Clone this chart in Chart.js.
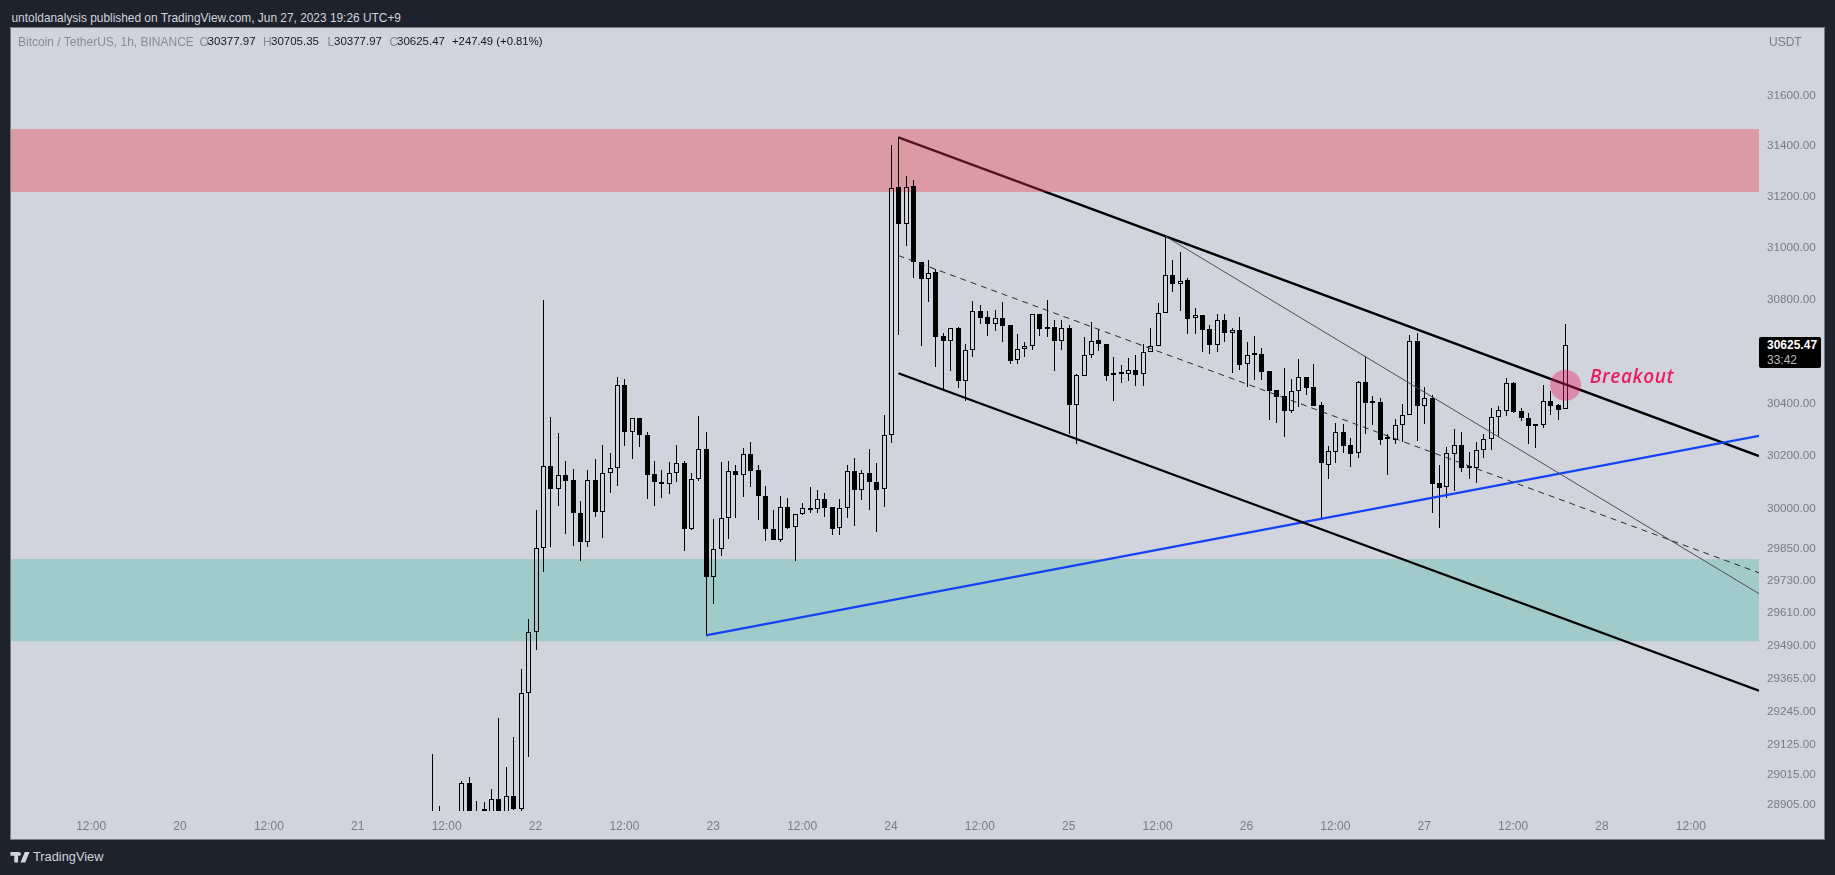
<!DOCTYPE html>
<html>
<head>
<meta charset="utf-8">
<title>BTCUSDT 1h</title>
<script src="https://cdn.jsdelivr.net/npm/chart.js@4/dist/chart.umd.min.js"></script>
<style>
    html, body { margin: 0; height: 100%; background: #1e222d; overflow: hidden; }
    body { width: 1835px; height: 875px; position: relative; font-family: "Liberation Sans", sans-serif; }
    #pane { position: absolute; left: 10px; top: 27px; width: 1813px; height: 811px; background: #d1d4dc; border: 1px solid #787b86; }
    #chart { position: absolute; left: 11px; top: 28px; }
    .txt { position: absolute; white-space: nowrap; }
    #published { left: 11.5px; top: 11px; font-size: 11.9px; color: #d1d4dc; }
    .legend { top: 35px; font-size: 11.5px; color: #131722; }
    .legend.dim { color: #878b98; font-size: 12px; }
    #unit { left: 1769px; top: 35px; font-size: 12px; color: #787b86; }
    #lastPrice { position: absolute; left: 1759px; top: 337px; width: 54px; height: 31px; padding-left: 8px; background: #000; border-radius: 2px; font-size: 12px; line-height: 15px; color: #fff; }
    #lastPrice b { display: block; padding-top: 1px; font-weight: 700; }
    #lastPrice span { color: #bdbdbd; }
    #brand { left: 33px; top: 849px; font-size: 12.8px; color: #d1d4dc; }
    #logo { position: absolute; left: 10px; top: 852px; }
</style>
</head>
<body>
<div id="pane"></div>
<canvas id="chart" width="1813" height="810"></canvas>

<div class="txt" id="published">untoldanalysis published on TradingView.com, Jun 27, 2023 19:26 UTC+9</div>
<div class="txt legend dim" style="left:18px">Bitcoin / TetherUS, 1h, BINANCE</div>
<div class="txt legend dim" style="left:199.5px">O</div><div class="txt legend" style="left:207.6px">30377.97</div>
<div class="txt legend dim" style="left:263px">H</div><div class="txt legend" style="left:271px">30705.35</div>
<div class="txt legend dim" style="left:327.4px">L</div><div class="txt legend" style="left:334px">30377.97</div>
<div class="txt legend dim" style="left:389.5px">C</div><div class="txt legend" style="left:397px">30625.47</div>
<div class="txt legend" style="left:452px;font-size:11.3px">+247.49 (+0.81%)</div>
<div class="txt" id="unit">USDT</div>
<div id="lastPrice"><b>30625.47</b><span>33:42</span></div>
<svg id="logo" width="20" height="10.5" viewBox="0 0 20 11"><path fill="#d1d4dc" d="M0 0h8v11H4V4H0zM15 0h5l-4.5 11h-5zM9 0a2 2 0 1 1 0 4a2 2 0 0 1 0-4z"/></svg>
<div class="txt" id="brand">TradingView</div>

<script>
// Candles, one per hour. Hour 0 is Jun 19 00:00, first candle is hour 58
const firstHour = 58;
const opens = [
    28800,28790,28810,28830,28840,28985,28850,28860,28865,28925,
    28860,28935,28891,29312,29538,29854,30161,30074,30128,30108,
    29984,29877,30108,29990,30134,30153,30470,30290,30345,30281,
    30131,30100,30095,30135,30175,29923,30112,30228,29745,29850,
    29965,30145,30130,30208,30148,30050,29926,29882,30007,29931,
    29980,30004,29998,30038,30008,29927,30002,30142,30070,30137,
    30103,30075,30280,31238,31095,31243,30947,30880,30908,30660,
    30642,30692,30488,30606,30757,30733,30707,30730,30702,30566,
    30609,30621,30743,30686,30696,30640,30692,30395,30507,30586,
    30644,30630,30513,30517,30515,30527,30512,30598,30620,30748,
    30895,30862,30875,30727,30742,30687,30623,30722,30672,30682,
    30550,30590,30592,30526,30452,30428,30372,30450,30501,30464,
    30394,30167,30216,30292,30242,30210,30484,30406,30405,30267,
    30263,30318,30355,30642,30391,30421,30098,30081,30209,30244,
    30157,30153,30222,30264,30350,30372,30478,30370,30346,30318,
    30317,30409,30393,30377.97
];
const highs = [
    29091,28900,28860,28870,28992,29007,28917,28913,28962,29222,
    29043,29153,29403,29589,29997,30797,30347,30288,30180,30150,
    30030,30146,30190,30241,30211,30503,30495,30345,30345,30292,
    30183,30146,30178,30241,30180,30137,30352,30290,29963,30178,
    30183,30165,30230,30255,30165,30085,29997,30050,30042,29981,
    30023,30081,30072,30061,30008,30038,30166,30192,30147,30227,
    30175,30355,31403,31435,31283,31268,30947,30955,30920,30670,
    30690,30696,30630,30795,30780,30755,30760,30792,30702,30668,
    30638,30746,30743,30797,30722,30722,30700,30512,30655,30714,
    30687,30630,30578,30547,30574,30585,30627,30691,30785,31047,
    30955,30985,30885,30768,30742,30700,30746,30746,30692,30733,
    30638,30658,30612,30526,30452,30535,30494,30572,30501,30553,
    30405,30238,30327,30323,30268,30488,30582,30428,30420,30285,
    30342,30397,30663,30670,30463,30433,30167,30233,30304,30290,
    30215,30253,30285,30382,30390,30497,30482,30385,30365,30318,
    30470,30447,30400,30705.35
];
const lows = [
    28780,28770,28790,28800,28820,28830,28830,28840,28850,28850,
    28850,28885,28870,29078,29471,29763,29855,30010,29905,29860,
    29803,29857,29968,29890,30062,30085,30240,30190,30235,30037,
    30010,30041,30055,30100,29840,29920,30106,29525,29645,29822,
    29887,29965,30044,30082,29960,29878,29882,29875,29926,29803,
    29976,29986,29986,29971,29903,29903,29965,29937,30035,29995,
    29912,30008,30250,30665,31010,30882,30620,30790,30540,30455,
    30525,30460,30410,30580,30705,30658,30678,30635,30553,30553,
    30577,30607,30658,30654,30525,30607,30283,30247,30505,30575,
    30600,30488,30410,30480,30488,30468,30468,30598,30620,30748,
    30830,30755,30668,30668,30597,30590,30597,30636,30517,30530,
    30465,30490,30490,30338,30327,30273,30363,30386,30433,30390,
    29962,30115,30175,30212,30160,30192,30283,30320,30242,30130,
    30245,30255,30355,30258,30323,29983,29930,30040,30068,30140,
    30115,30098,30192,30225,30272,30352,30365,30333,30247,30232,
    30305,30355,30337,30377.97
];
const closes = [
    28790,28810,28830,28840,28985,28850,28860,28865,28925,28860,
    28935,28891,29312,29538,29854,30161,30074,30128,30107,29984,
    29877,30108,29990,30134,30153,30470,30290,30345,30280,30130,
    30100,30095,30135,30175,29923,30112,30228,29745,29850,29965,
    30142,30130,30207,30145,30048,29923,29882,30007,29929,29981,
    30004,29997,30038,30005,29926,30004,30142,30070,30135,30100,
    30073,30280,31237,31095,31240,30945,30880,30905,30655,30642,
    30690,30488,30606,30757,30730,30707,30728,30698,30565,30610,
    30622,30743,30685,30696,30640,30691,30395,30510,30588,30642,
    30628,30507,30510,30513,30527,30510,30598,30621,30748,30895,
    30862,30872,30725,30740,30683,30623,30722,30672,30682,30549,
    30587,30587,30522,30448,30425,30370,30450,30501,30460,30390,
    30172,30218,30290,30238,30207,30484,30401,30402,30262,30264,
    30318,30357,30642,30390,30420,30095,30080,30210,30242,30155,
    30153,30222,30264,30350,30374,30478,30368,30345,30313,30315,
    30408,30391,30375,30625.47
];

// Axis ticks
const priceTicks = [31600,31400,31200,31000,30800,30400,30200,30000,29850,29730,29610,29490,29365,29245,29125,29015,28905];
const timeTickHours = [12,24,36,48,60,72,84,96,108,120,132,144,156,168,180,192,204,216,228];
const timeTickLabels = ['12:00','20','12:00','21','12:00','22','12:00','23','12:00','24','12:00','25','12:00','26','12:00','27','12:00','28','12:00'];

// Visible range
const hourRange = [1.175, 237.2];
const priceRange = [28882, 31870];

// Drawings, [startHour, endHour] and [startPrice, endPrice]
const resistanceZone = [31468, 31220];
const supportZone = [29812, 29505];
const upperChannelHours = [121, 237.2];
const upperChannelPrices = [31435, 30200];
const lowerChannelHours = [121, 237.2];
const lowerChannelPrices = [30516, 29322];
const midChannelHours = [121, 237.2];
const midChannelPrices = [30971, 29760];
const thinTrendHours = [157, 237.2];
const thinTrendPrices = [31047, 29682];
const blueTrendHours = [95, 237.2];
const blueTrendPrices = [29527, 30277];
const breakoutPoint = { x: 211.08, y: 30470 };
const breakoutLabel = { x: 214.35, y: 30500, text: 'Breakout' };

const hours = opens.map((_, i) => firstHour + i);
const isUp = opens.map((o, i) => closes[i] >= o);

function lineSet(xs, ys, color, width, dash, order) {
    return {
        type: 'line',
        data: xs.map((x, i) => ({ x: x, y: ys[i] })),
        borderColor: color,
        borderWidth: width,
        borderDash: dash || [],
        pointRadius: 0,
        order: order || 2
    };
}

function zoneSet(prices, color, order) {
    return {
        type: 'line',
        data: hourRange.map(x => ({ x: x, y: prices[0] })),
        fill: { value: prices[1] },
        backgroundColor: color,
        borderWidth: 0,
        pointRadius: 0,
        order: order
    };
}

function wickSet(values) {
    return {
        data: hours.map((x, i) => ({ x: x, y: values(i) })),
        backgroundColor: '#000',
        borderWidth: 0,
        maxBarThickness: 1,
        inflateAmount: 0,
        order: 5
    };
}

// Keep candles on whole pixels so that the 1px wicks stay sharp
const crispBars = {
    id: 'crispBars',
    afterDatasetsUpdate(chart) {
        chart.getSortedVisibleDatasetMetas().forEach(meta => {
            if (meta.type !== 'bar') return;
            meta.data.forEach(bar => {
                bar.x = Math.round(bar.x) + 0.5;
                bar.y = Math.round(bar.y);
                bar.base = Math.round(bar.base);
            });
        });
    }
};

const breakoutText = {
    id: 'breakoutText',
    afterDatasetsDraw(chart) {
        const ctx = chart.ctx;
        ctx.save();
        ctx.font = 'italic 600 19px "Open Sans", sans-serif';
        ctx.letterSpacing = '0.6px';
        ctx.fillStyle = '#e91e63';
        ctx.textBaseline = 'middle';
        ctx.fillText(breakoutLabel.text, chart.scales.x.getPixelForValue(breakoutLabel.x), chart.scales.y.getPixelForValue(breakoutLabel.y));
        ctx.restore();
    }
};

new Chart(document.getElementById('chart'), {
    type: 'bar',
    data: {
        datasets: [
            zoneSet(supportZone, '#a1cbcb', 10),
            // the red zone lies over the upper channel line, but under the candles
            lineSet(upperChannelHours, upperChannelPrices, '#000', 2.3, null, 9),
            zoneSet(resistanceZone, 'rgba(242,54,69,0.36)', 8),
            wickSet(i => [Math.max(opens[i], closes[i]), highs[i]]),
            wickSet(i => [lows[i], Math.min(opens[i], closes[i])]),
            {
                data: hours.map((x, i) => ({ x: x, y: [opens[i], closes[i]] })),
                backgroundColor: isUp.map(up => up ? 'rgba(0,0,0,0)' : '#000'),
                borderColor: '#000',
                borderWidth: 1,
                borderSkipped: false,
                maxBarThickness: 5,
                minBarLength: 2,
                inflateAmount: 0,
                order: 4
            },
            lineSet(lowerChannelHours, lowerChannelPrices, '#000', 2.3),
            lineSet(midChannelHours, midChannelPrices, '#2a2a30', 1, [6, 5]),
            lineSet(thinTrendHours, thinTrendPrices, '#4c4c56', 1),
            lineSet(blueTrendHours, blueTrendPrices, '#1443f5', 2.3),
            {
                type: 'scatter',
                data: [breakoutPoint],
                pointRadius: 15.5,
                backgroundColor: 'rgba(233,30,99,0.4)',
                borderWidth: 0,
                order: 1
            }
        ]
    },
    options: {
        responsive: false,
        animation: false,
        events: [],
        barPercentage: 1,
        categoryPercentage: 1,
        grouped: false,
        layout: { padding: 0, autoPadding: false },
        plugins: { legend: { display: false }, tooltip: { enabled: false } },
        scales: {
            x: {
                type: 'linear',
                offset: false,
                min: hourRange[0],
                max: hourRange[1],
                grid: { display: false },
                border: { display: false },
                afterBuildTicks: s => { s.ticks = timeTickHours.map(v => ({ value: v })); },
                afterFit: s => { s.height = 27; s.paddingLeft = 0; s.paddingRight = 0; },
                ticks: {
                    autoSkip: false,
                    maxRotation: 0,
                    padding: 0,
                    color: '#787b86',
                    font: { family: '"Liberation Sans"', size: 12 },
                    callback: (v, i) => timeTickLabels[i]
                }
            },
            y: {
                type: 'logarithmic',
                position: 'right',
                bounds: 'data',
                min: priceRange[0],
                max: priceRange[1],
                grid: { display: false, drawTicks: false },
                border: { display: false },
                afterBuildTicks: s => { s.ticks = priceTicks.map(v => ({ value: v })); },
                afterFit: s => { s.width = 65; s.paddingTop = 0; s.paddingBottom = 0; },
                ticks: {
                    autoSkip: false,
                    padding: 8,
                    color: '#787b86',
                    font: { family: '"Liberation Sans"', size: 11.7 },
                    callback: v => Number(v).toFixed(2)
                }
            }
        }
    },
    plugins: [crispBars, breakoutText]
});
</script>
</body>
</html>
